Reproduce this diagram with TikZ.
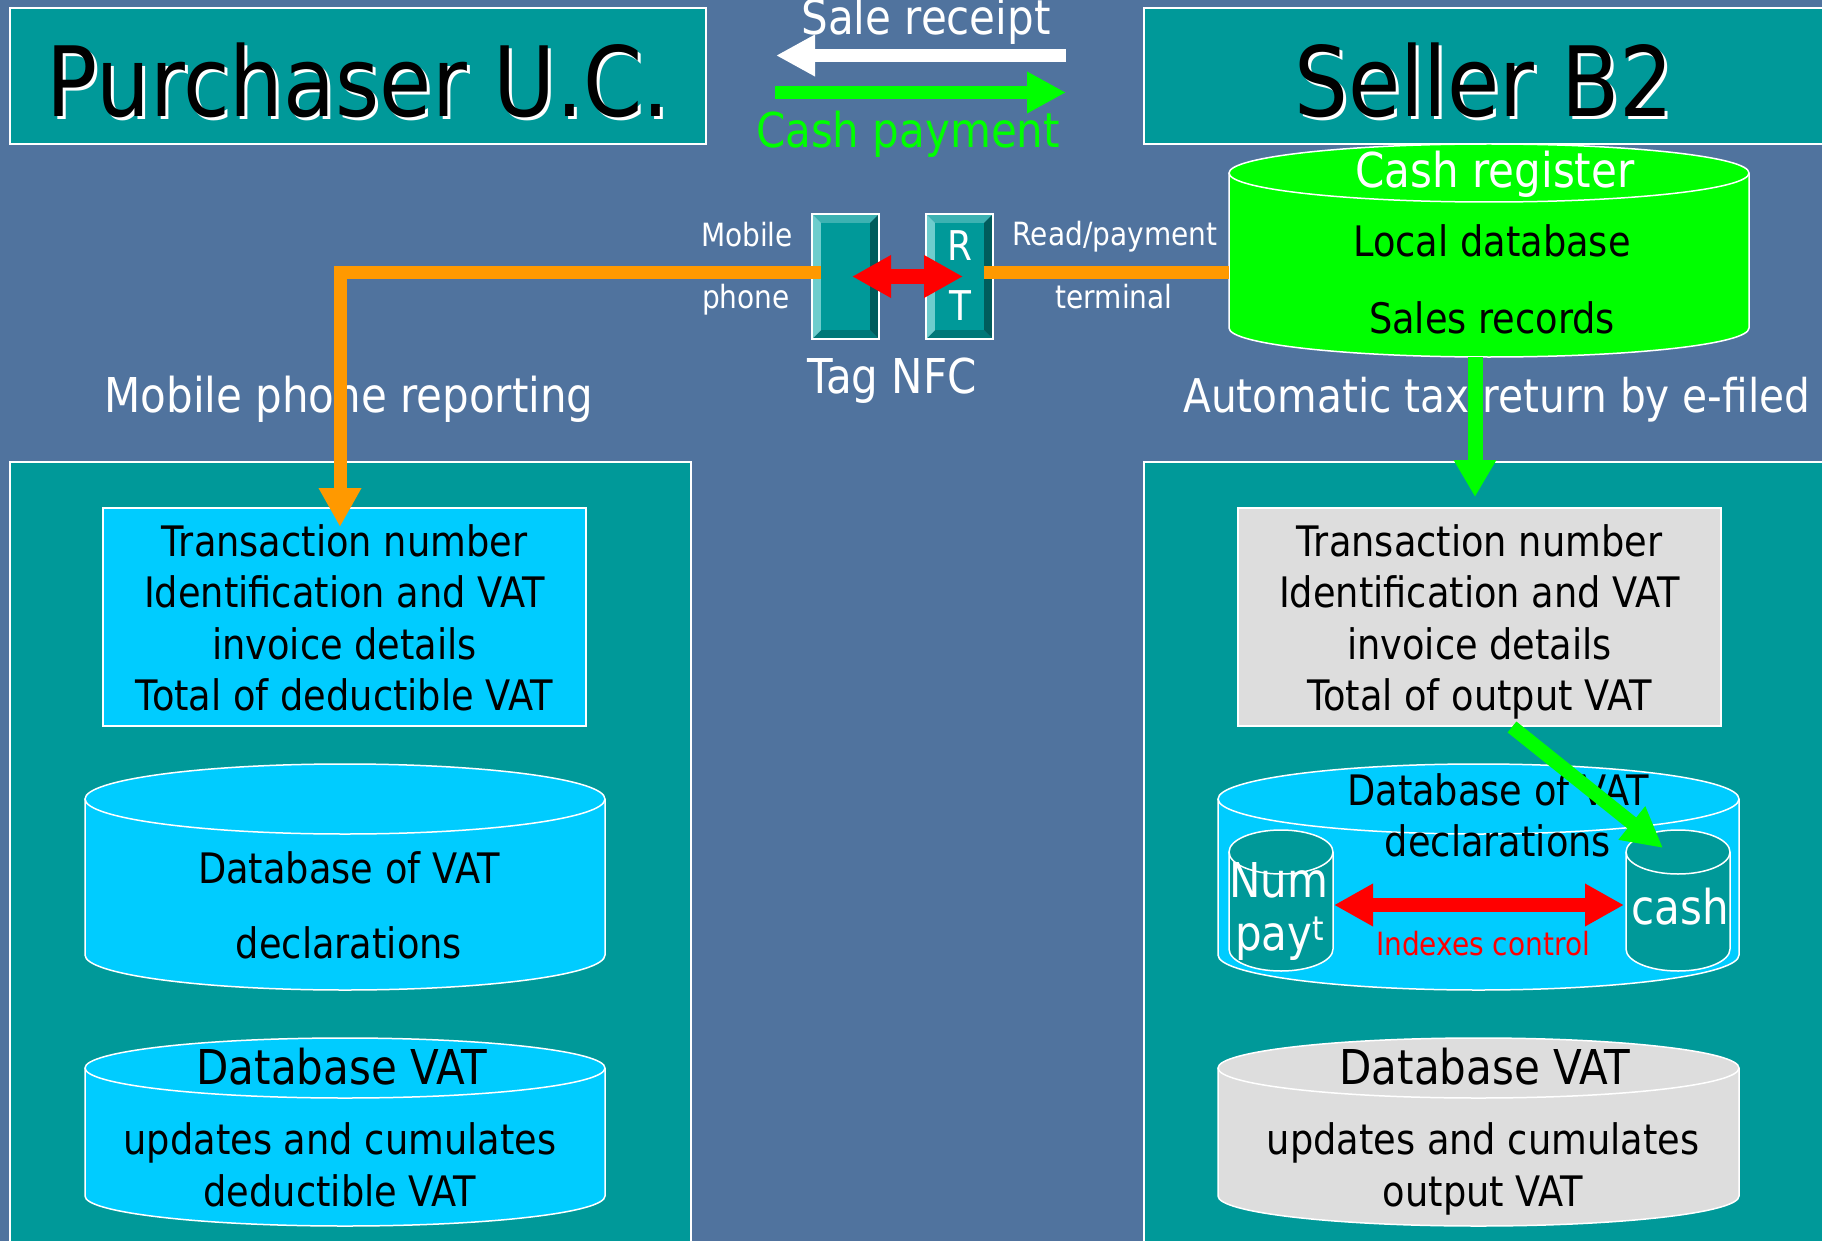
\documentclass[tikz,border=0pt]{standalone}
\usepackage{fontspec}
\setmainfont{DejaVu Sans}[FakeStretch=0.875]
\usetikzlibrary{arrows.meta}
\definecolor{bgblue}{RGB}{80,115,158}
\definecolor{teal0}{RGB}{0,153,153}
\definecolor{cyanb}{RGB}{0,204,255}
\definecolor{grayb}{RGB}{221,221,221}
\definecolor{green0}{RGB}{0,255,0}
\definecolor{orange0}{RGB}{255,153,0}
\definecolor{red0}{RGB}{255,0,0}
\definecolor{bevtop}{RGB}{60,178,178}
\definecolor{bevleft}{RGB}{110,205,205}
\definecolor{bevright}{RGB}{0,92,92}
\definecolor{bevbot}{RGB}{0,120,120}
\newcommand\dbcyl[6]{%
  \fill[#6] (#1-#4,#2) -- (#1-#4,#3) arc[start angle=180,end angle=360,x radius=#4pt,y radius=#5pt] -- (#1+#4,#2) -- cycle;
  \fill[#6] (#1,#2) ellipse[x radius=#4pt,y radius=#5pt];
  \draw[white,line width=1.5pt] (#1-#4,#2) -- (#1-#4,#3) arc[start angle=180,end angle=360,x radius=#4pt,y radius=#5pt] -- (#1+#4,#2);
  \draw[white,line width=1.5pt] (#1,#2) ellipse[x radius=#4pt,y radius=#5pt];
}
\newcommand\nfcbevel[4]{%
  \fill[bevtop] (#1,#2) -- (#3,#2) -- (#3-9,#2+9) -- (#1+9,#2+9) -- cycle;
  \fill[bevbot] (#1,#4) -- (#3,#4) -- (#3-9,#4-9) -- (#1+9,#4-9) -- cycle;
  \fill[bevleft] (#1,#2) -- (#1+9,#2+9) -- (#1+9,#4-9) -- (#1,#4) -- cycle;
  \fill[bevright] (#3,#2) -- (#3-9,#2+9) -- (#3-9,#4-9) -- (#3,#4) -- cycle;
  \draw[white,line width=1.5pt] (#1,#2) rectangle (#3,#4);
}
\begin{document}
\begin{tikzpicture}[x=1pt,y=-1pt,
  panel/.style={fill=teal0,draw=white,line width=2pt,inner sep=0pt,anchor=north west},
  infobox/.style={draw=white,line width=1.5pt,inner sep=0pt,minimum width=483pt,minimum height=218pt},
  infotext/.style={inner sep=0pt,align=center,font=\fontsize{42}{51.5}\selectfont},
  ta/.style={font=\fontsize{42}{51}\selectfont,inner sep=0pt,anchor=base},
  tb/.style={font=\fontsize{48}{58}\selectfont,inner sep=0pt,anchor=base},
  tc/.style={font=\fontsize{32}{38}\selectfont,inner sep=0pt,anchor=base},
  th/.style={font=\fontsize{97}{110}\selectfont,inner sep=0pt,anchor=base},
  tagface/.style={fill=teal0,inner sep=0pt,minimum width=49pt,minimum height=107pt},
  bigarrow/.style={line width=13pt,-{Triangle[length=39pt,width=39pt]}},
  dblarrow/.style={red0,line width=15pt,{Triangle[length=39pt,width=40pt]}-{Triangle[length=39pt,width=40pt]}}
]
\useasboundingbox (0,0) rectangle (1822,1241);
\fill[bgblue] (0,0) rectangle (1822,1241);

% header panels
\node[panel,minimum width=696pt,minimum height=136pt] (purch) at (9,7) {};
\node[panel,minimum width=700pt,minimum height=136pt] (seller) at (1143,7) {};
\node[th,white] (purchS) at (361,120) {Purchaser U.C.};
\node[th] (purchT) at (358,117) {Purchaser U.C.};
\node[th,white] (sellerS) at (1487,120) {Seller B2};
\node[th] (sellerT) at (1484,117) {Seller B2};

% header arrows
\node[tb,white] (salerec) at (926,35) {Sale receipt};
\node[tb,green0] (cashpay) at (908,148) {Cash payment};
\coordinate (srA) at (1066,55.5);
\coordinate (srB) at (776,55.5);
\coordinate (cpA) at (775,92.5);
\coordinate (cpB) at (1066,92.5);
\draw[bigarrow,white] (srA) -- (srB);
\draw[bigarrow,green0] (cpA) -- (cpB);

% cash register
\dbcyl{1489}{173}{328}{260}{29}{green0}
\node[tb,white] (crtitle) at (1495,188) {Cash register};
\node[ta] (crlocal) at (1492,257) {Local database};
\node[ta] (crsales) at (1492,333) {Sales records};
\coordinate (crleft) at (1229,272.5);
\coordinate (crbot) at (1475,357);

% NFC tags
\nfcbevel{812}{214}{879}{339}
\node[tagface] (phone) at (845.5,276.5) {};
\nfcbevel{926}{214}{993}{339}
\node[tagface] (reader) at (959.5,276.5) {};
\node[font=\fontsize{41}{48}\selectfont,inner sep=0pt,anchor=base,white] (rR) at (960,261) {R};
\node[font=\fontsize{41}{48}\selectfont,inner sep=0pt,anchor=base,white] (rT) at (960,320) {T};
\node[tc,white] (mob1) at (747,247) {Mobile};
\node[tc,white] (mob2) at (746,308) {phone};
\node[tc,white] (rp1) at (1115,246) {Read/payment};
\node[tc,white] (rp2) at (1114,308) {terminal};
\node[tb,white] (tagnfc) at (892,393) {Tag NFC};

\node[tb,white] (mpr) at (349,412) {Mobile phone reporting};
\node[tb,white,anchor=base west,font=\fontsize{46.5}{56}\selectfont] (atr) at (1183,412) {Automatic tax return by e-filed};

% big panels
\node[panel,minimum width=681pt,minimum height=800pt] (lpanel) at (9,461) {};
\node[panel,minimum width=700pt,minimum height=800pt] (rpanel) at (1143,461) {};

% left column
\node[infobox,fill=cyanb] (ltx) at (344.5,617) {};
\node[infotext] (ltxt) at ([yshift=-6pt]ltx.center) {\strut Transaction number\\Identification and VAT\\invoice details\\Total of deductible VAT\strut};
\dbcyl{345}{799}{955}{260}{35}{cyanb}
\node[ta] (ldb1) at (349,883) {Database of VAT};
\node[ta] (ldb2) at (349,958) {declarations};
\dbcyl{345}{1068}{1196}{260}{30}{cyanb}
\node[tb] (lcum1) at (342,1084) {Database VAT};
\node[ta] (lcum2) at (340,1154) {updates and cumulates};
\node[ta] (lcum3) at (340,1206) {deductible VAT};

% right column
\node[infobox,fill=grayb] (rtx) at (1479.5,617) {};
\node[infotext] (rtxt) at ([yshift=-6pt]rtx.center) {\strut Transaction number\\Identification and VAT\\invoice details\\Total of output VAT\strut};
\dbcyl{1478.5}{799}{955}{260.5}{35}{cyanb}
\node[ta] (rdb1) at (1498,805) {Database of VAT};
\node[ta] (rdb2) at (1498,856) {declarations};
\dbcyl{1281}{852}{949}{52}{22}{teal0}
\dbcyl{1678}{852}{949}{52}{22}{teal0}
\node[tb,white,anchor=base west] (num1) at (1229,897) {Num};
\node[tb,white,anchor=base west] (num2) at (1235,950) {pay\textsuperscript{t}};
\node[tb,white] (cash) at (1680,924) {cash};
\node[tc,red0] (idx) at (1483,955) {Indexes control};
\coordinate (numR) at (1334,905);
\coordinate (cashL) at (1624,905);
\coordinate (cashTop) at (1663,848);
\dbcyl{1478.5}{1068}{1196}{260.5}{30}{grayb}
\node[tb] (rcum1) at (1485,1084) {Database VAT};
\node[ta] (rcum2) at (1483,1154) {updates and cumulates};
\node[ta] (rcum3) at (1483,1206) {output VAT};

% connectors
\coordinate (ojoin) at (340,272.5);
\coordinate (ltxIn) at (340,527);
\draw[orange0,line width=13pt,line join=miter,-{Triangle[length=39pt,width=40pt]}] (phone.west |- ojoin) -- (ojoin) -- (ltxIn);
\draw[orange0,line width=13pt] (reader.east |- crleft) -- (crleft);
\draw[dblarrow] (phone.center -| 852,0) -- (reader.center -| 963,0);
\coordinate (gtip) at (1475,497);
\draw[green0,line width=15pt,-{Triangle[length=37pt,width=40pt]}] (crbot) -- (gtip);
\coordinate (rtxOut) at (1512,727);
\draw[green0,line width=14pt,-{Triangle[length=40pt,width=40pt]}] (rtxOut) -- (cashTop);
\draw[red0,line width=14pt,{Triangle[length=39pt,width=40pt]}-{Triangle[length=39pt,width=40pt]}] (numR) -- (cashL);
\end{tikzpicture}
\end{document}
